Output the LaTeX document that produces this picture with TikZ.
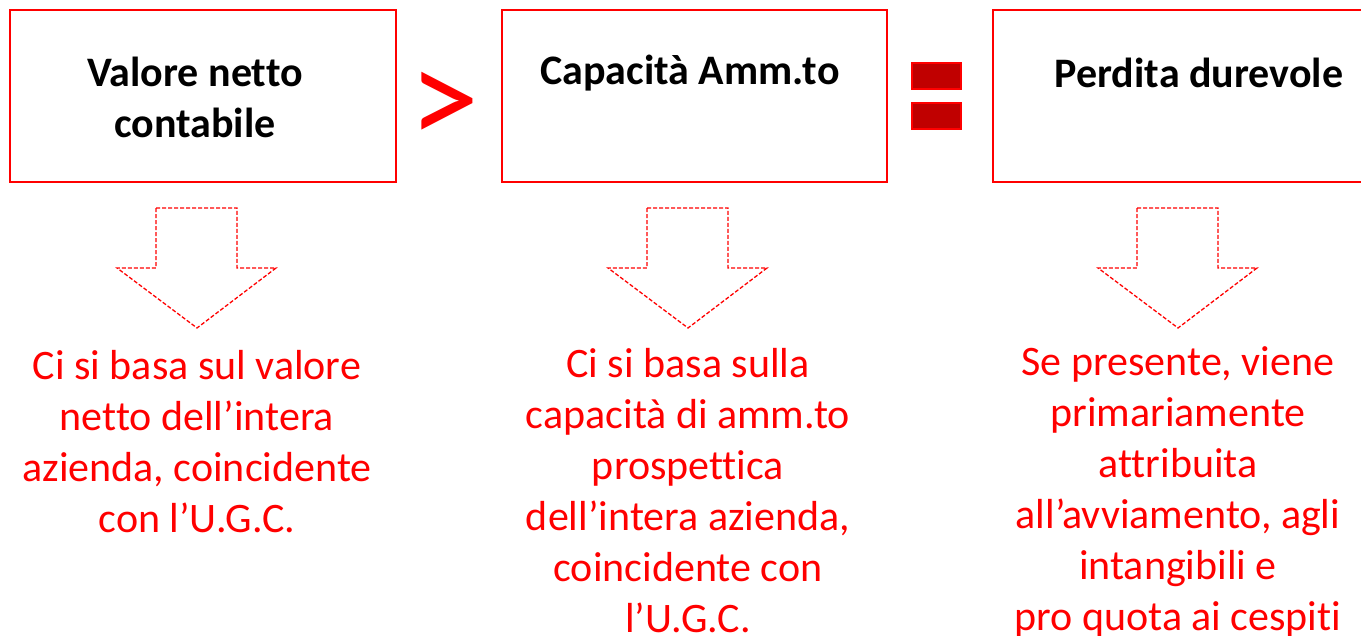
\documentclass[tikz,border=0pt]{standalone}
\usepackage{fontspec}
\setmainfont[Ligatures=NoCommon]{Carlito}
\definecolor{eqred}{HTML}{C00000}
\begin{document}
\begin{tikzpicture}[x=1pt,y=-1pt,
  boxframe/.style={draw=red,line width=1.6pt},
  title/.style={font=\fontsize{42}{51}\selectfont\bfseries,align=center,inner sep=0pt},
  note/.style={font=\fontsize{42}{51}\selectfont,text=red,align=center,inner sep=0pt},
  downarrow/.style={draw=red,line width=1.3pt,dash pattern=on 4pt off 2pt},
  eqbar/.style={draw=red,fill=eqred,line width=1.2pt}]
\useasboundingbox (0,0) rectangle (1361,636);
\clip (0,0) rectangle (1361,636);
% boxes
\draw[boxframe] (10,10) rectangle (396,182);
\draw[boxframe] (502,10) rectangle (887,182);
\draw[boxframe] (993,10) rectangle (1380,182);
\node[title] (t1) at (195,97) {Valore netto\\contabile};
\node[title] (t2) at (690,73) {Capacità Amm.to};
\node[title] (t3) at (1199,73) {Perdita durevole};
% operators
\node[inner sep=0pt,text=red,font=\fontsize{140}{140}\selectfont] (gt) at (444,109) {>};
\draw[eqbar] (912,63) rectangle (961,89);
\draw[eqbar] (912,103) rectangle (961,129);
% arrows
\foreach \c in {197,688,1178}{
  \draw[downarrow] (\c-41,208) -- (\c+40,208) -- (\c+40,268) -- (\c+79,268)
    -- (\c,328) -- (\c-80,268) -- (\c-41,268) -- cycle;
}
% notes
\node[note] (n1) at (197,442) {Ci si basa sul valore\\netto dell’intera\\azienda, coincidente\\con l’U.G.C.};
\node[note] (n2) at (688,491) {Ci si basa sulla\\capacità di amm.to\\prospettica\\dell’intera azienda,\\coincidente con\\l’U.G.C.};
\node[note] (n3) at (1178,492) {Se presente, viene\\primariamente\\attribuita\\all’avviamento, agli\\intangibili e\\pro quota ai cespiti};
\end{tikzpicture}
\end{document}
